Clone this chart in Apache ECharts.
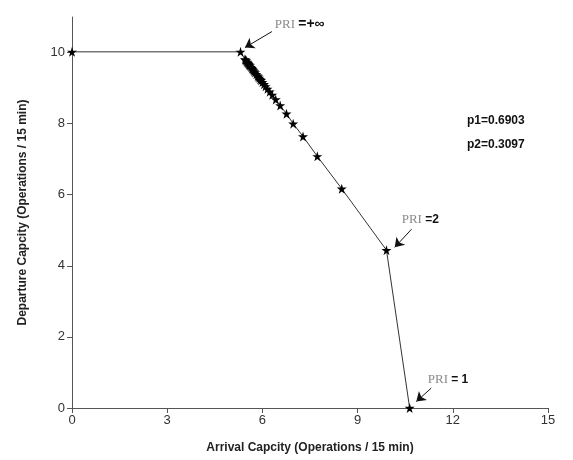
<!DOCTYPE html>
<html>
<head>
<meta charset="utf-8">
<script src="https://cdn.jsdelivr.net/npm/echarts@6/dist/echarts.min.js"></script>
<style>html,body{margin:0;padding:0;background:#fff}#c{width:573px;height:460px}</style>
</head>
<body>
<div id="c"></div>
<script>
// Arrival capacity (x) and departure capacity (y) of the capacity frontier, in order
var arrival = [0, 5.31, 5.45, 5.47, 5.49, 5.51, 5.53, 5.55, 5.57, 5.59, 5.61, 5.64, 5.67, 5.69, 5.72, 5.74, 5.77, 5.81, 5.85, 5.87, 5.90, 5.93, 5.96, 6.00, 6.05, 6.10, 6.16, 6.23, 6.31, 6.42, 6.56, 6.76, 6.97, 7.28, 7.73, 8.50, 9.91, 10.64];
var departure = [10.02, 10.02, 9.81, 9.79, 9.77, 9.74, 9.72, 9.70, 9.67, 9.65, 9.63, 9.59, 9.56, 9.53, 9.50, 9.47, 9.44, 9.39, 9.35, 9.32, 9.29, 9.25, 9.22, 9.17, 9.11, 9.05, 8.98, 8.90, 8.81, 8.68, 8.51, 8.28, 8.00, 7.64, 7.08, 6.17, 4.44, 0];
var xTicks = [0, 3, 6, 9, 12, 15];
var yTicks = [0, 2, 4, 6, 8, 10];
var weights = ['p1=0.6903', 'p2=0.3097'];
// annotation labels: [prefix, value]
var priLabels = [['PRI ', '=+\u221e'], ['PRI ', '=2'], ['PRI ', '= 1']];

var star = 'path://M50,0 L61,35 L98,35 L68,57 L79,91 L50,70 L21,91 L32,57 L2,35 L39,35 Z';
var data = arrival.map(function (x, i) { return [x, departure[i]]; });

function lbl(i, coord, big) {
  return {
    coord: coord, symbolSize: 0,
    label: {
      show: true, position: 'right', distance: 0,
      formatter: '{a|' + priLabels[i][0] + '}{b|' + priLabels[i][1] + '}',
      rich: {
        a: { fontFamily: 'Liberation Serif', fontSize: 13, color: '#8a8a8a' },
        b: { fontFamily: 'Liberation Sans', fontSize: big ? 14 : 12, fontWeight: 'bold', color: '#111' }
      }
    }
  };
}

var chart = echarts.init(document.getElementById('c'), null, { renderer: 'canvas' });
chart.setOption({
  animation: false,
  grid: { left: 72, right: 25, top: 17, bottom: 52, containLabel: false },
  xAxis: {
    type: 'value', min: 0, max: 15, interval: 3,
    name: 'Arrival Capcity (Operations / 15 min)', nameLocation: 'middle', nameGap: 34,
    nameTextStyle: { fontFamily: 'Liberation Sans', fontSize: 12, fontWeight: 'bold', color: '#222' },
    axisLine: { lineStyle: { color: '#555', width: 1 } },
    axisTick: { show: true, length: 5, lineStyle: { color: '#555' } },
    axisLabel: { color: '#333', fontFamily: 'Liberation Sans', fontSize: 13, margin: 6,
      formatter: function (v) { return xTicks.indexOf(v) >= 0 ? String(v) : ''; } },
    splitLine: { show: false }
  },
  yAxis: {
    type: 'value', min: 0, max: 11,
    name: 'Departure Capcity (Operations / 15 min)', nameLocation: 'middle', nameGap: 43,
    nameTextStyle: { fontFamily: 'Liberation Sans', fontSize: 12, fontWeight: 'bold', color: '#222' },
    axisLine: { show: true, lineStyle: { color: '#555', width: 1 } },
    axisTick: { show: true, length: 5, lineStyle: { color: '#555' }, customValues: yTicks },
    axisLabel: { color: '#333', fontFamily: 'Liberation Sans', fontSize: 13, margin: 7, customValues: yTicks },
    splitLine: { show: false }
  },
  graphic: [
    { type: 'text', left: 467, top: 115, style: { text: weights[0], font: 'bold 12px "Liberation Sans"', fill: '#111' } },
    { type: 'text', left: 467, top: 139, style: { text: weights[1], font: 'bold 12px "Liberation Sans"', fill: '#111' } }
  ],
  series: [{
    type: 'line',
    data: data,
    symbol: star,
    symbolSize: 10,
    showAllSymbol: true,
    itemStyle: { color: '#000' },
    lineStyle: { color: '#333', width: 1 },
    z: 3,
    markLine: {
      silent: true, animation: false,
      symbol: ['none', 'arrow'], symbolSize: 9,
      lineStyle: { color: '#111', width: 1, type: 'solid' },
      label: { show: false },
      data: [
        [{ coord: [6.30, 10.59] }, { coord: [5.45, 10.14] }],
        [{ coord: [10.70, 5.03] }, { coord: [10.17, 4.52] }],
        [{ coord: [11.32, 0.56] }, { coord: [10.85, 0.18] }]
      ]
    },
    markPoint: {
      silent: true, animation: false, symbol: 'circle',
      data: [
        lbl(0, [6.39, 10.79], true),
        lbl(1, [10.39, 5.31], false),
        lbl(2, [11.21, 0.81], false)
      ]
    }
  }]
});
</script>
</body>
</html>
